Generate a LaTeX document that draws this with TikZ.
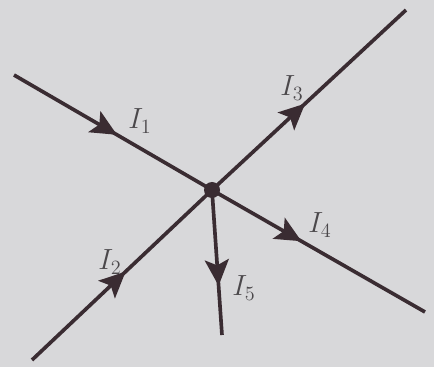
\documentclass[tikz,border=0pt]{standalone}
\usepackage{amsmath}
\usepackage{xcolor}
\usepackage{tikz}
\usetikzlibrary{arrows.meta,decorations.markings}

\definecolor{paper}{RGB}{216,216,218}
\definecolor{ink}{RGB}{58,44,50}
\definecolor{txt}{RGB}{75,72,75}

\tikzset{
  wire/.style={draw=ink, line width=2.6pt},
  midarrow/.style={postaction={decorate},
    decoration={markings, mark=at position #1 with {\arrow[ink]{Stealth[length=6.5mm,width=6mm,inset=1.4mm]}}}},
  lbl/.style={text=txt, font=\fontsize{22}{26}\selectfont},
}

\begin{document}
\begin{tikzpicture}[x=0.025cm,y=-0.025cm]
  \fill[paper] (0,0) rectangle (434,367);
  \useasboundingbox (0,0) rectangle (434,367);
  % end points of the wires
  \coordinate (a1) at (14,75);
  \coordinate (a2) at (32,360);
  \coordinate (a3) at (406,10);
  \coordinate (a4) at (425,312);
  \coordinate (a5) at (222,335);
  % junction
  \node[circle, fill=ink, inner sep=0pt, minimum size=4mm] (o) at (212,190) {};
  \draw[wire, midarrow=0.52] (a1) -- (o.center);
  \draw[wire, midarrow=0.52] (a2) -- (o.center);
  \draw[wire, midarrow=0.48] (o.center) -- (a3);
  \draw[wire, midarrow=0.42] (o.center) -- (a4);
  \draw[wire, midarrow=0.66] (o.center) -- (a5);
  % labels
  \node[lbl] (l1) at (140,121) {$I_1$};
  \node[lbl] (l2) at (110,262) {$I_2$};
  \node[lbl] (l3) at (292,88) {$I_3$};
  \node[lbl] (l4) at (320,225) {$I_4$};
  \node[lbl] (l5) at (244,288) {$I_5$};
\end{tikzpicture}
\end{document}
